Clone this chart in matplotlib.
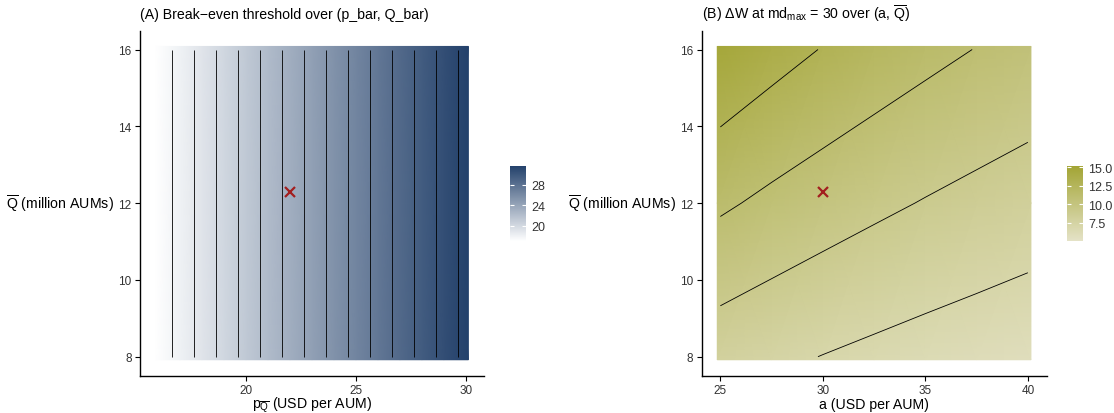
import numpy as np
import matplotlib
matplotlib.use('Agg')
import matplotlib.pyplot as plt
from matplotlib.colors import LinearSegmentedColormap, Normalize

plt.rcParams['font.family'] = ['Liberation Sans', 'DejaVu Sans']
plt.rcParams['mathtext.fontset'] = 'custom'
plt.rcParams['mathtext.rm'] = 'Liberation Sans'
plt.rcParams['mathtext.it'] = 'Liberation Sans:italic'

# panel A: break-even threshold vs p_bar (flat in Q_bar)
p_vals = [16, 17, 18, 19, 20, 21, 22, 23, 24, 25, 26, 27, 28, 29, 30]
thr_vals = [17.00, 18.05, 19.10, 20.15, 21.20, 22.25, 23.30, 24.35,
            25.40, 26.45, 27.50, 28.55, 29.60, 30.65, 31.70]
qa_vals = [8, 16]
thr_levels = [17.68, 18.73, 19.78, 20.83, 21.88, 22.93, 23.98,
              25.03, 26.08, 27.13, 28.18, 29.23, 30.28, 31.33]
point_a = (22.0, 12.3)

# panel B: delta W at md_max = 30
a_vals = [25, 27.5, 30, 32.5, 35, 37.5, 40]
qb_vals = [8, 12, 16]
dw_vals = [
    [7.86, 7.38, 6.96, 6.59, 6.26, 5.98, 5.71],
    [11.30, 10.57, 9.94, 9.39, 8.90, 8.46, 8.07],
    [14.73, 13.76, 12.92, 12.18, 11.53, 10.95, 10.42],
]
dw_levels = [7, 9, 11, 13]
point_b = (30.0, 12.3)

W, H = 1114, 414
fig = plt.figure(figsize=(W / 100, H / 100), dpi=100)

cmap_a = LinearSegmentedColormap.from_list('a', ['#ffffff', '#23416b'])
cmap_b = LinearSegmentedColormap.from_list('b', ['#e4e2c6', '#a3a535'])
norm_a = Normalize(17.0, 31.7)
norm_b = Normalize(5.07, 15.1)

tick_col = '#333333'
fs_tick = 8.5
fs_lab = 10.2


def style(ax):
    for s in ['top', 'right']:
        ax.spines[s].set_visible(False)
    for s in ['left', 'bottom']:
        ax.spines[s].set_linewidth(1.0)
    ax.tick_params(length=3.5, width=0.8, labelsize=fs_tick, labelcolor=tick_col, pad=2.5)


def edges(v, pad):
    v = np.array(v, dtype=float)
    v[0] -= pad
    v[-1] += pad
    return v


def colorbar(mappable, rect, ticks, fmt):
    cax = fig.add_axes(rect)
    cb = fig.colorbar(mappable, cax=cax, ticks=ticks, format=fmt)
    cb.outline.set_visible(False)
    cax.tick_params(direction='in', length=3, width=0.8, color='white',
                    left=True, right=True, labelsize=fs_tick + 0.5,
                    labelcolor=tick_col, pad=4)
    return cb


# ---- panel A
ax1 = fig.add_axes([140 / W, 1 - 376.5 / H, 344 / W, 344.8 / H])
Z1 = np.array([thr_vals for _ in qa_vals])
m1 = ax1.pcolormesh(edges(p_vals, 0.11), edges(qa_vals, 0.08), Z1,
                    shading='gouraud', cmap=cmap_a, norm=norm_a, rasterized=True)
ax1.contour(p_vals, qa_vals, Z1, levels=thr_levels, colors='black', linewidths=0.6)
ax1.plot(*point_a, marker='x', color='#a31f1f', markersize=7, mew=1.6)
ax1.set_xlim(15.18, 30.82)
ax1.set_ylim(7.51, 16.49)
ax1.set_xticks([20, 25, 30])
ax1.set_yticks([8, 10, 12, 14, 16])
style(ax1)
ax1.set_xlabel(r'$\mathrm{p}_{\overline{\mathrm{Q}}}$ (USD per AUM)', fontsize=fs_lab, labelpad=-1)
ax1.set_ylabel(r'$\overline{\mathrm{Q}}$ (million AUMs)', fontsize=fs_lab, rotation=0,
               ha='right', va='center', labelpad=3)
ax1.set_title('(A) Break\u2212even threshold over (p_bar, Q_bar)', fontsize=fs_lab,
              loc='left', pad=9)
colorbar(m1, [510 / W, 1 - 242.3 / H, 16 / W, 75.6 / H], [20, 24, 28], '%g')

# ---- panel B
ax2 = fig.add_axes([701.7 / W, 1 - 376.5 / H, 345 / W, 344.8 / H])
Z2 = np.array(dw_vals)
m2 = ax2.pcolormesh(edges(a_vals, 0.15), edges(qb_vals, 0.08), Z2,
                    shading='gouraud', cmap=cmap_b, norm=norm_b, rasterized=True)
ax2.contour(a_vals, qb_vals, Z2, levels=dw_levels, colors='black', linewidths=0.6)
ax2.plot(*point_b, marker='x', color='#a31f1f', markersize=7, mew=1.6)
ax2.set_xlim(24.09, 40.92)
ax2.set_ylim(7.51, 16.49)
ax2.set_xticks([25, 30, 35, 40])
ax2.set_yticks([8, 10, 12, 14, 16])
style(ax2)
ax2.set_xlabel('a (USD per AUM)', fontsize=fs_lab, labelpad=1)
ax2.set_ylabel(r'$\overline{\mathrm{Q}}$ (million AUMs)', fontsize=fs_lab, rotation=0,
               ha='right', va='center', labelpad=3)
ax2.set_title(r'(B) $\Delta$W at md$_{\mathrm{max}}$ = 30 over (a, $\overline{\mathrm{Q}}$)',
              fontsize=fs_lab, loc='left', pad=9)
colorbar(m2, [1066.7 / W, 1 - 241.7 / H, 16 / W, 74.4 / H], [7.5, 10, 12.5, 15], '%.1f')

fig.savefig('out.png', dpi=100)
